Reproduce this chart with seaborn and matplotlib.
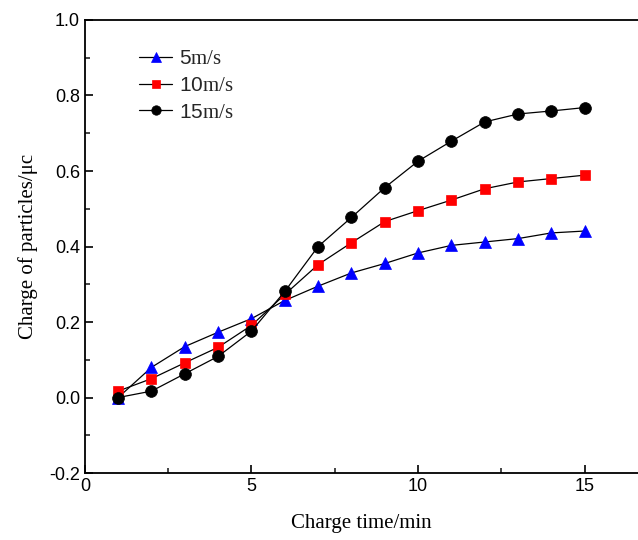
import pandas as pd
import numpy as np
import matplotlib.pyplot as plt
import seaborn as sns
from matplotlib.ticker import MultipleLocator, FormatStrFormatter

# Data
time_min = [1, 2, 3, 4, 5, 6, 7, 8, 9, 10, 11, 12, 13, 14, 15]
charge_5 = [0.0, 0.080, 0.135, 0.173, 0.209, 0.257, 0.295, 0.330, 0.355,
            0.383, 0.403, 0.412, 0.421, 0.436, 0.441]
charge_10 = [0.017, 0.050, 0.092, 0.133, 0.191, 0.273, 0.352, 0.410, 0.466,
             0.495, 0.523, 0.553, 0.571, 0.580, 0.589]
charge_15 = [0.0, 0.017, 0.063, 0.109, 0.176, 0.281, 0.400, 0.477, 0.556,
             0.626, 0.679, 0.730, 0.751, 0.759, 0.768]
labels = ['5m/s', '10m/s', '15m/s']
# digits in sans, unit in serif, as in the original legend
legend_text = [r'$\mathsf{5}$m/s', r'$\mathsf{10}$m/s', r'$\mathsf{15}$m/s']

df = pd.DataFrame({
    'time': time_min * 3,
    'charge': charge_5 + charge_10 + charge_15,
    'speed': np.repeat(labels, len(time_min)),
})

sns.set_theme(style='white')
plt.rcParams['font.family'] = ['Liberation Sans', 'DejaVu Sans']
plt.rcParams['mathtext.fontset'] = 'custom'
plt.rcParams['mathtext.sf'] = 'Liberation Sans'
plt.rcParams['mathtext.rm'] = 'Liberation Serif'

fig = plt.figure(figsize=(6.38, 5.4), dpi=100)
ax = fig.add_axes([0.133, 0.124, 0.867, 0.839])

styles = {
    '5m/s': dict(marker='^', color_m='#0000ff', ms=9),
    '10m/s': dict(marker='s', color_m='#ff0000', ms=7),
    '15m/s': dict(marker='o', color_m='#000000', ms=8.5),
}
for lab, txt in zip(labels, legend_text):
    st = styles[lab]
    sns.lineplot(data=df[df['speed'] == lab], x='time', y='charge', ax=ax,
                 color='black', linewidth=0.9, marker=st['marker'],
                 markersize=st['ms'], markerfacecolor=st['color_m'],
                 markeredgecolor=st['color_m'], markeredgewidth=0.5,
                 label=txt)

ax.set_xlim(0, 16.6)
ax.set_ylim(-0.2, 1.0)
ax.xaxis.set_major_locator(MultipleLocator(5))
ax.xaxis.set_minor_locator(MultipleLocator(2.5))
ax.yaxis.set_major_locator(MultipleLocator(0.2))
ax.yaxis.set_minor_locator(MultipleLocator(0.1))
ax.yaxis.set_major_formatter(FormatStrFormatter('%.1f'))
ax.tick_params(which='major', direction='in', length=6, width=1.2,
               labelsize=13, colors='black', bottom=True, left=True)
ax.tick_params(which='minor', direction='in', length=3.5, width=1.2,
               bottom=True, left=True)

for side in ['left', 'bottom', 'top']:
    ax.spines[side].set_color('black')
    ax.spines[side].set_linewidth(1.3)
ax.spines['right'].set_visible(False)

ax.set_xlabel('Charge time/min', family='Liberation Serif', fontsize=15,
              color='black', labelpad=14)
ax.set_ylabel('Charge of particles/μc', family='Liberation Serif',
              fontsize=15, color='black', labelpad=8)

leg = ax.legend(loc='upper left', bbox_to_anchor=(0.098, 0.935), frameon=False,
                handlelength=1.6, handletextpad=0.3, labelspacing=0.35,
                borderaxespad=0, borderpad=0, markerscale=0.8,
                prop={'family': 'Liberation Serif', 'size': 15})

fig.savefig('out.png', dpi=100)
